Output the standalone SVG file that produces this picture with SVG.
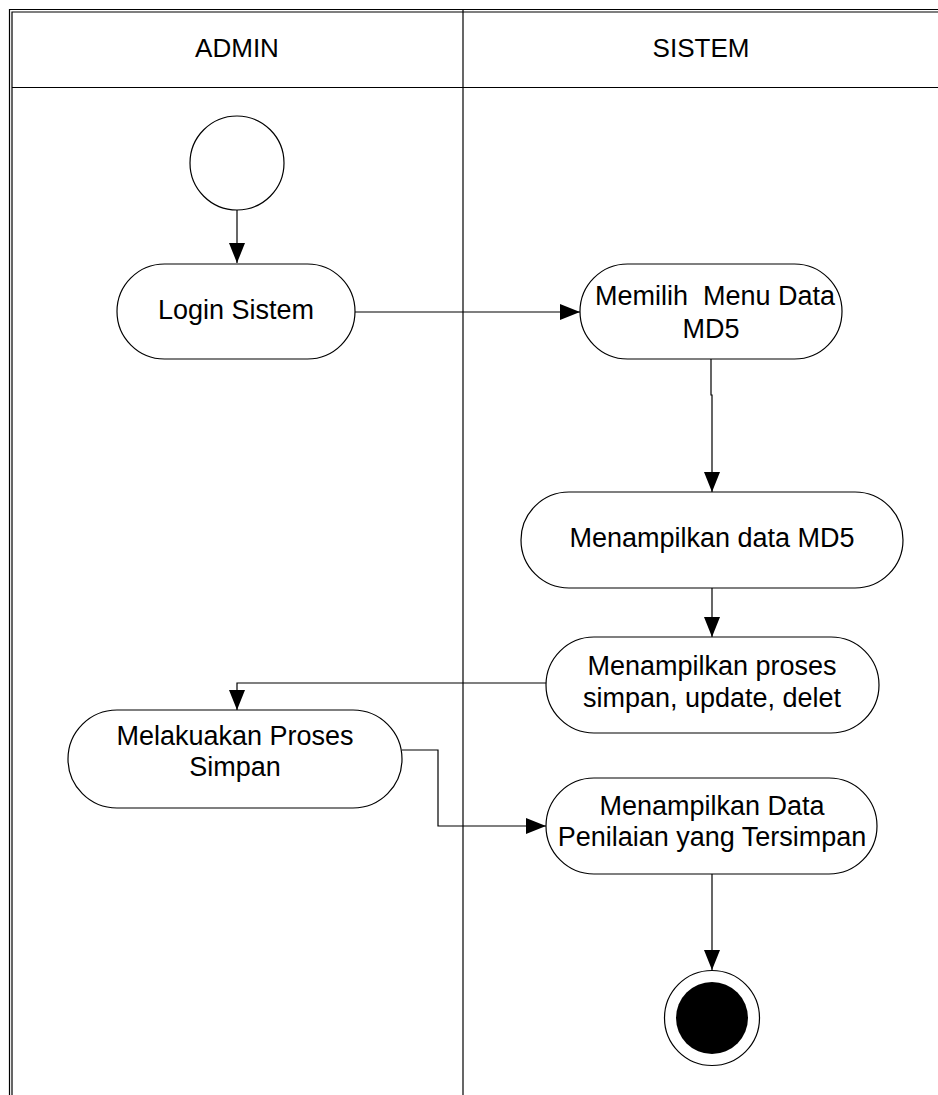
<svg xmlns="http://www.w3.org/2000/svg" width="938" height="1095" viewBox="0 0 938 1095">
<defs>
<style>
.frame{fill:none;stroke:#000;stroke-width:1.2}
.act{fill:#fff;stroke:#000;stroke-width:1.2}
.t{font-family:"Liberation Sans",Arial,sans-serif;font-size:27px;fill:#000;text-anchor:middle}
.h{font-size:26px}
.c{fill:none;stroke:#000;stroke-width:1.2}
</style>
<marker id="ah" markerWidth="20" markerHeight="16" refX="20" refY="8" orient="auto" markerUnits="userSpaceOnUse">
<path d="M0,0 L20,8 L0,16 z" fill="#000"/>
</marker>
</defs>
<rect width="938" height="1095" fill="#fff"/>
<g id="lanes">
<path class="frame" d="M9.5,1095 V9.5 H940"/>
<path class="frame" stroke="#777" d="M12,1095 V12 H940"/>
<line class="frame" x1="12" y1="87.5" x2="940" y2="87.5"/>
<line class="frame" x1="463" y1="9.5" x2="463" y2="1095"/>
<text class="t h" x="237" y="57">ADMIN</text>
<text class="t h" x="701" y="57">SISTEM</text>
</g>
<g id="start"><circle class="act" cx="237" cy="163" r="47"/></g>
<g id="login"><rect class="act" x="117" y="264" width="238" height="95" rx="47.5"/><text class="t" x="236" y="319">Login Sistem</text></g>
<g id="memilih"><rect class="act" x="580" y="264" width="262" height="95" rx="47.5"/><text class="t" x="715" y="305" xml:space="preserve">Memilih  Menu Data</text><text class="t" x="711" y="338">MD5</text></g>
<g id="tampil-data"><rect class="act" x="521" y="492" width="382" height="96" rx="48"/><text class="t" x="712" y="547">Menampilkan data MD5</text></g>
<g id="tampil-proses"><rect class="act" x="546" y="637" width="333" height="96" rx="48"/><text class="t" x="712" y="675">Menampilkan proses</text><text class="t" x="712" y="707">simpan, update, delet</text></g>
<g id="simpan"><rect class="act" x="68" y="710" width="334" height="98" rx="49"/><text class="t" x="235" y="745">Melakuakan Proses</text><text class="t" x="235" y="776">Simpan</text></g>
<g id="tampil-tersimpan"><rect class="act" x="546" y="778" width="331" height="96" rx="48"/><text class="t" x="712" y="815">Menampilkan Data</text><text class="t" x="712" y="846">Penilaian yang Tersimpan</text></g>
<g id="end"><circle class="act" cx="712" cy="1018" r="47.5"/><circle cx="712" cy="1018" r="36" fill="#000"/></g>
<g id="connectors">
<path class="c" d="M237,210 V263" marker-end="url(#ah)"/>
<path class="c" d="M355,312 H580" marker-end="url(#ah)"/>
<path class="c" d="M711,359 V395 H712 V492" marker-end="url(#ah)"/>
<path class="c" d="M712,588 V637" marker-end="url(#ah)"/>
<path class="c" d="M546,683 H237 V710" marker-end="url(#ah)"/>
<path class="c" d="M402,750 H438 V826 H546" marker-end="url(#ah)"/>
<path class="c" d="M712,874 V970" marker-end="url(#ah)"/>
</g>
</svg>
